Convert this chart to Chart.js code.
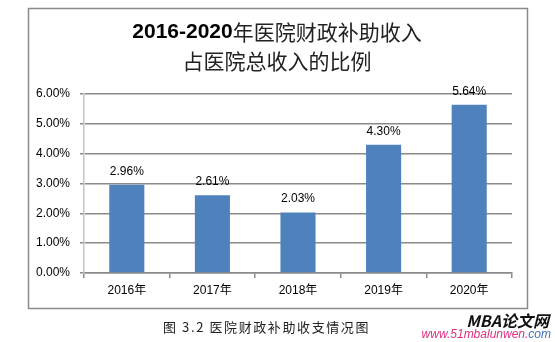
<!DOCTYPE html>
<html>
<head>
<meta charset="utf-8">
<script src="https://cdn.jsdelivr.net/npm/chart.js@4/dist/chart.umd.min.js"></script>
<style>
  html, body { margin: 0; padding: 0; background: #fff; }
  #wrap { width: 555px; height: 342px; position: relative; }
</style>
</head>
<body>
<div id="wrap"><canvas id="ratioChart" width="555" height="342"></canvas></div>
<script>
// Data
const years = ["2016年", "2017年", "2018年", "2019年", "2020年"];
const ratios = [2.96, 2.61, 2.03, 4.30, 5.64]; // %
const yTicks = [0, 1, 2, 3, 4, 5, 6];

const titleBold = "2016-2020";
const titleRest = "年医院财政补助收入";
const titleLine2 = "占医院总收入的比例";
const caption = "图 3.2 医院财政补助收支情况图";

const CJK = '"Noto Sans CJK SC", sans-serif';
const LATIN = '"Liberation Sans", Arial, sans-serif';

// Frame, title, value labels, caption
const decorPlugin = {
  id: "decor",
  beforeDraw(chart) {
    const ctx = chart.ctx;
    ctx.save();
    ctx.fillStyle = "#fff";
    ctx.fillRect(0, 0, chart.width, chart.height);
    ctx.strokeStyle = "#8a8a8a";
    ctx.lineWidth = 1.5;
    ctx.strokeRect(28.5, 8.5, 499, 300);
    ctx.restore();
  },
  afterDraw(chart) {
    const ctx = chart.ctx;
    ctx.save();

    // title line 1: bold years + regular text
    ctx.textBaseline = "middle";
    ctx.fillStyle = "#000";
    ctx.font = "bold 21px " + LATIN;
    const wBold = ctx.measureText(titleBold).width;
    ctx.font = "21px " + CJK;
    const wRest = ctx.measureText(titleRest).width;
    let x = 277 - (wBold + wRest) / 2;
    ctx.textAlign = "left";
    ctx.font = "bold 21px " + LATIN;
    ctx.fillText(titleBold, x, 32);
    ctx.font = "21px " + CJK;
    ctx.fillStyle = "#222";
    ctx.fillText(titleRest, x + wBold, 32);
    ctx.textAlign = "center";
    ctx.fillText(titleLine2, 277, 61);

    // value labels above bars
    const meta = chart.getDatasetMeta(0);
    ctx.font = "12px " + LATIN;
    ctx.fillStyle = "#000";
    meta.data.forEach((bar, i) => {
      ctx.fillText(ratios[i].toFixed(2) + "%", bar.x, bar.y - 13.5);
    });

    // caption
    ctx.font = "13px " + CJK;
    ctx.fillStyle = "#222";
    ctx.textAlign = "left";
    ctx.letterSpacing = "1.6px";
    ctx.fillText(caption, 163, 327);
    ctx.letterSpacing = "0px";

    // site mark
    ctx.font = "italic bold 16px " + CJK;
    ctx.fillStyle = "#111";
    ctx.textAlign = "right";
    ctx.fillText("MBA论文网", 549, 321);
    ctx.font = "italic 12px " + LATIN;
    const comW = ctx.measureText("com").width;
    ctx.fillStyle = "#3d6fbf";
    ctx.fillText("com", 551, 335);
    ctx.fillStyle = "#e0307f";
    ctx.fillText("www.51mbalunwen.", 551 - comW, 335);

    ctx.restore();
  }
};

const chart = new Chart(document.getElementById("ratioChart"), {
  type: "bar",
  data: {
    labels: years,
    datasets: [{
      data: ratios,
      backgroundColor: "#4f81bd",
      borderWidth: 0,
      categoryPercentage: 0.82,
      barPercentage: 0.5
    }]
  },
  options: {
    responsive: false,
    animation: false,
    devicePixelRatio: 1,
    layout: { padding: { left: 28, right: 43, top: 94, bottom: 34 } },
    plugins: {
      legend: { display: false },
      tooltip: { enabled: false },
      title: { display: false }
    },
    scales: {
      x: {
        grid: {
          offset: true,
          drawOnChartArea: false,
          color: "#8a8a8a",
          tickLength: 5,
          lineWidth: 1.5
        },
        border: { color: "#8a8a8a", width: 1.5 },
        ticks: {
          padding: 5,
          color: "#000",
          font: { family: '"Liberation Sans", "Noto Sans CJK SC", sans-serif', size: 12 }
        },
        afterFit(scale) { scale.height = 35; }
      },
      y: {
        min: 0,
        max: 6,
        afterBuildTicks(scale) { scale.ticks = yTicks.map(v => ({ value: v })); },
        grid: { color: "#8a8a8a", lineWidth: 1.5, tickLength: 4 },
        border: { color: "#c4c4c4", width: 1.5 },
        ticks: {
          padding: 10,
          color: "#000",
          font: { family: LATIN, size: 12 },
          callback: v => v.toFixed(2) + "%"
        },
        afterFit(scale) { scale.width = 56; }
      }
    }
  },
  plugins: [decorPlugin]
});
</script>
</body>
</html>
